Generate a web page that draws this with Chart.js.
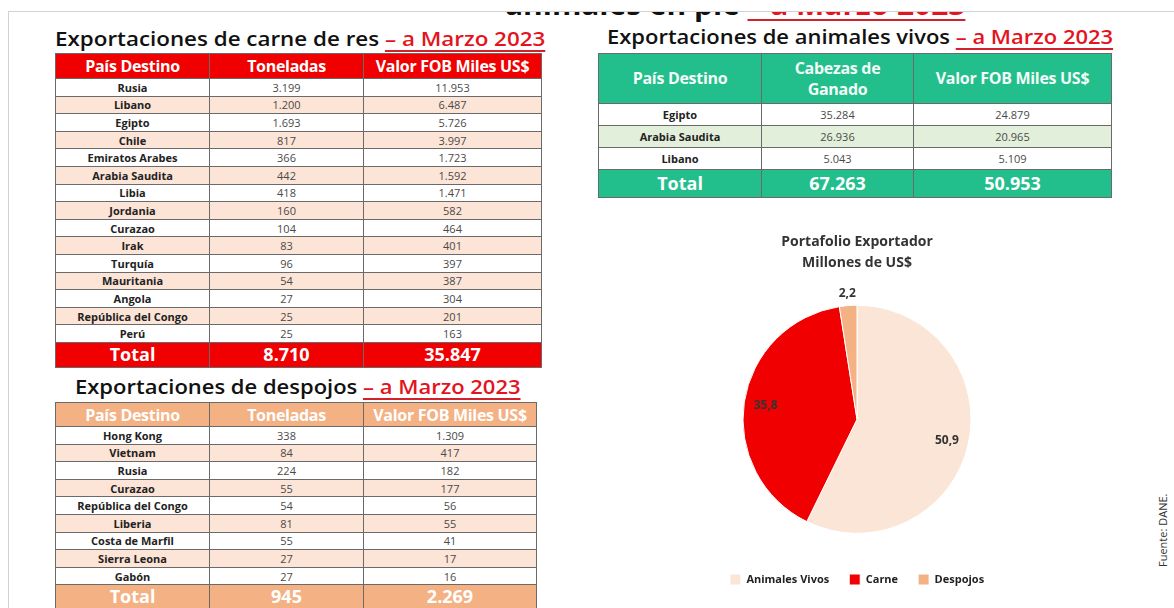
<!DOCTYPE html>
<html lang="es">
<head>
<meta charset="utf-8">
<title>Exportaciones a Marzo 2023</title>
<script src="https://cdn.jsdelivr.net/npm/chart.js@4.4.0/dist/chart.umd.min.js"></script>
<style>
body { margin: 0; width: 1174px; height: 608px; overflow: hidden; background: #fff; position: relative; font-family: "Open Sans", sans-serif; }
.frame { position: absolute; left: 8px; top: 11px; width: 1180px; height: 620px; border-left: 1px solid #d2d2d2; border-top: 1px solid #d2d2d2; }
.topTitle { position: absolute; left: 0; top: 12px; width: 1174px; height: 12px; overflow: hidden; }
.topTitle span.txt { position: absolute; left: 505px; top: -23px; font-size: 30px; line-height: 30px; font-weight: 700; color: #111; white-space: nowrap; transform-origin: 0 0; }
.title { position: absolute; font-size: 20px; line-height: 20px; font-weight: 600; color: #111; white-space: nowrap; transform-origin: 0 0; }
.red { color: #e3141e; text-decoration: underline; text-decoration-thickness: 2px; text-underline-offset: 4px; text-decoration-color: #d4202a; }
table { position: absolute; border-collapse: collapse; table-layout: fixed; }
td { border: 1px solid #6a6a6a; text-align: center; padding: 0; font-size: 11px; line-height: 11px; color: #4a4a4a; overflow: hidden; white-space: nowrap; }
td.c { font-weight: 700; color: #222; }
tr.head td { color: #fff; font-weight: 700; font-size: 16px; line-height: 18px; letter-spacing: -0.3px; }
#vivosTable tr.head td { line-height: 21px; color: #f2fbf7; }
tr.tot td { color: #fff; font-weight: 700; font-size: 18px; }
.source { position: absolute; left: 1133px; top: 530px; width: 60px; text-align: center; font-size: 11px; line-height: 14px; color: #333; transform: rotate(-90deg); white-space: nowrap; }
#pieBox { position: absolute; left: 700px; top: 226px; width: 314px; height: 369px; }
</style>
</head>
<body>

<div class="frame"></div>
<div class="topTitle"><span class="txt" id="t0">animales en pie <span class="red">– a Marzo 2023</span></span></div>

<div class="title" id="t1" style="left:55px; top:29px;">Exportaciones de carne de res <span class="red">– a Marzo 2023</span></div>
<div class="title" id="t2" style="left:75px; top:377px;">Exportaciones de despojos <span class="red">– a Marzo 2023</span></div>
<div class="title" id="t3" style="left:607px; top:27px;">Exportaciones de animales vivos <span class="red">– a Marzo 2023</span></div>

<table id="carneTable" style="left:55px; top:53px; width:486px;">
  <colgroup><col style="width:154px"><col style="width:154px"><col style="width:178px"></colgroup>
  <tbody></tbody>
</table>

<table id="despojosTable" style="left:55px; top:402px; width:481px;">
  <colgroup><col style="width:154px"><col style="width:154px"><col style="width:173px"></colgroup>
  <tbody></tbody>
</table>

<table id="vivosTable" style="left:598px; top:53px; width:513px;">
  <colgroup><col style="width:163px"><col style="width:152px"><col style="width:198px"></colgroup>
  <tbody></tbody>
</table>

<div id="pieBox"><canvas id="pieChart" width="314" height="369"></canvas></div>

<div class="source">Fuente: DANE.</div>

<script>
/* DATA */

const carneCountries = ["Rusia", "Libano", "Egipto", "Chile", "Emiratos Arabes", "Arabia Saudita", "Libia", "Jordania", "Curazao", "Irak", "Turquía", "Mauritania", "Angola", "República del Congo", "Perú"];
const carneTons = [3199, 1200, 1693, 817, 366, 442, 418, 160, 104, 83, 96, 54, 27, 25, 25];
const carneFob = [11953, 6487, 5726, 3997, 1723, 1592, 1471, 582, 464, 401, 397, 387, 304, 201, 163];
const carneTotals = [8710, 35847];

const despojosCountries = ["Hong Kong", "Vietnam", "Rusia", "Curazao", "República del Congo", "Liberia", "Costa de Marfil", "Sierra Leona", "Gabón"];
const despojosTons = [338, 84, 224, 55, 54, 81, 55, 27, 27];
const despojosFob = [1309, 417, 182, 177, 56, 55, 41, 17, 16];
const despojosTotals = [945, 2269];

const vivosCountries = ["Egipto", "Arabia Saudita", "Libano"];
const vivosHeads = [35284, 26936, 5043];
const vivosFob = [24879, 20965, 5109];
const vivosTotals = [67263, 50953];

const pieLabels = ["Animales Vivos", "Carne", "Despojos"];
const pieValues = [50.9, 35.8, 2.2];

/* HELPERS */

function fmt(n) {
    return String(n).replace(/\B(?=(\d{3})+(?!\d))/g, ".");
}

function fillTable(id, headers, countries, colA, colB, totals, opt) {
    const body = document.querySelector("#" + id + " tbody");
    let html = `<tr class="head" style="height:${opt.headH}px;background:${opt.main}">` +
        headers.map(h => `<td>${h}</td>`).join("") + "</tr>";
    countries.forEach((c, i) => {
        const bg = i % 2 === 1 ? opt.alt : "#fff";
        html += `<tr style="height:${opt.rowH}px;background:${bg}">` +
            `<td class="c">${c}</td><td>${fmt(colA[i])}</td><td>${fmt(colB[i])}</td></tr>`;
    });
    html += `<tr class="tot" style="height:${opt.totH}px;background:${opt.main}">` +
        `<td>Total</td><td>${fmt(totals[0])}</td><td>${fmt(totals[1])}</td></tr>`;
    body.innerHTML = html;
}

fillTable("carneTable", ["País Destino", "Toneladas", "Valor FOB Miles US$"],
    carneCountries, carneTons, carneFob, carneTotals,
    { main: "#f00000", alt: "#fce4d6", headH: 25, rowH: 17.6, totH: 25 });

fillTable("despojosTable", ["País Destino", "Toneladas", "Valor FOB Miles US$"],
    despojosCountries, despojosTons, despojosFob, despojosTotals,
    { main: "#f4b183", alt: "#fce4d6", headH: 24, rowH: 17.6, totH: 24 });

fillTable("vivosTable", ["País Destino", "Cabezas de<br>Ganado", "Valor FOB Miles US$"],
    vivosCountries, vivosHeads, vivosFob, vivosTotals,
    { main: "#22be8c", alt: "#e2efda", headH: 50, rowH: 22, totH: 28 });

/* squeeze titles to the width they take in the slide */
[["t0", 460], ["t1", 490], ["t2", 445], ["t3", 506]].forEach(([id, w]) => {
    const el = document.getElementById(id);
    el.style.transform = `scaleX(${w / el.offsetWidth})`;
});

/* PIE */

const pieLabelPlugin = {
    id: "pieLabels",
    afterDatasetsDraw(chart) {
        const ctx = chart.ctx;
        const meta = chart.getDatasetMeta(0);
        ctx.save();
        ctx.font = "bold 12px 'Open Sans', sans-serif";
        ctx.fillStyle = "#333";
        ctx.textAlign = "center";
        ctx.textBaseline = "middle";
        meta.data.forEach((arc, i) => {
            const p = arc.getProps(["x", "y", "startAngle", "endAngle", "outerRadius"], true);
            const mid = (p.startAngle + p.endAngle) / 2;
            const r = pieValues[i] < 5 ? p.outerRadius + 12 : p.outerRadius * 0.81;
            const text = pieValues[i].toFixed(1).replace(".", ",");
            ctx.fillText(text, p.x + Math.cos(mid) * r, p.y + Math.sin(mid) * r);
        });
        ctx.restore();
    }
};

new Chart(document.getElementById("pieChart"), {
    type: "pie",
    data: {
        labels: pieLabels,
        datasets: [{
            data: pieValues,
            backgroundColor: ["#fbe5d6", "#f00000", "#f4b183"],
            borderColor: "#fff",
            borderWidth: 1
        }]
    },
    options: {
        responsive: false,
        animation: false,
        radius: 114,
        plugins: {
            title: {
                display: true,
                text: ["Portafolio Exportador", "Millones de US$"],
                color: "#333",
                font: { family: "'Open Sans', sans-serif", size: 14, weight: "bold", lineHeight: 1.5 },
                padding: { top: 5.5, bottom: 11 }
            },
            legend: {
                position: "bottom",
                labels: {
                    boxWidth: 11,
                    boxHeight: 11,
                    padding: 20,
                    color: "#222",
                    font: { family: "'Open Sans', sans-serif", size: 11, weight: "bold" }
                }
            },
            tooltip: { enabled: false }
        }
    },
    plugins: [pieLabelPlugin]
});
</script>
</body>
</html>
